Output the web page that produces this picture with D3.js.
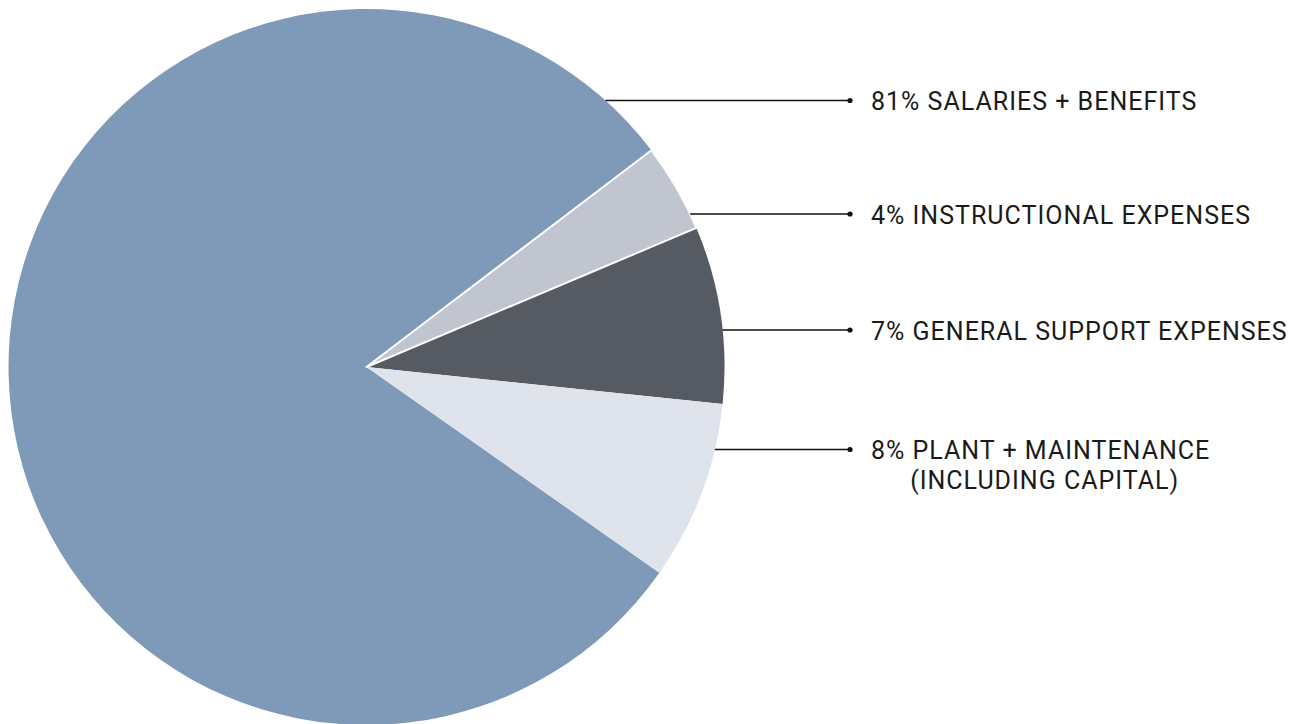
<!DOCTYPE html>
<html>
<head>
<meta charset="utf-8">
<script src="https://cdn.jsdelivr.net/npm/d3@7"></script>
<style>
  html, body { margin: 0; padding: 0; background: #ffffff; }
  svg { display: block; }
  text { font-family: "Roboto", "DejaVu Sans", sans-serif; fill: #1a1a1a; }
</style>
</head>
<body>
<svg id="chart" width="1306" height="724"></svg>
<script>
// ---- data ----
const categories = ["SALARIES + BENEFITS", "INSTRUCTIONAL EXPENSES", "GENERAL SUPPORT EXPENSES", "PLANT + MAINTENANCE"];
const subLabels  = ["", "", "", "(INCLUDING CAPITAL)"];
const pctLabels  = ["81%", "4%", "7%", "8%"];
// slice sizes as drawn (share of the circle, %)
const shares     = [79.9, 4.0, 8.0, 8.1];
const colors     = ["#7f9ab8", "#c1c5cf", "#565a62", "#dfe3ec"];

// ---- layout ----
const W = 1306, H = 724;
const cx = 366.5, cy = 367, R = 358;
const startDeg = 125.1;              // salaries slice begins here (clockwise from 12 o'clock)
const labelRowY = [100.5, 214, 330, 449.5];
const dotX = 850, textX = 871;

const svg = d3.select("#chart");
const g = svg.append("g").attr("transform", `translate(${cx},${cy})`);

const data = categories.map((c, i) => ({ name: c, share: shares[i], color: colors[i], pct: pctLabels[i], sub: subLabels[i], i }));

const pie = d3.pie().sort(null).value(d => d.share)
  .startAngle(startDeg * Math.PI / 180)
  .endAngle(startDeg * Math.PI / 180 + 2 * Math.PI);
const arc = d3.arc().innerRadius(0).outerRadius(R);
const arcs = pie(data);

// instructional slice carries a white edge, drawn on top
g.selectAll("path.slice")
  .data(arcs)
  .join("path")
  .attr("class", "slice")
  .attr("d", arc)
  .attr("fill", d => d.data.color)
  .attr("stroke", d => d.data.i === 1 ? "#ffffff" : "none")
  .attr("stroke-width", d => d.data.i === 1 ? 2 : 0)
  .attr("stroke-linejoin", "round")
  .sort((a, b) => (a.data.i === 1) - (b.data.i === 1));

// ---- leader lines and labels ----
const lab = svg.append("g");
data.forEach((d, i) => {
  const y = labelRowY[i];
  const dy = y - cy;
  const x0 = cx + Math.sqrt(R * R - dy * dy);
  lab.append("line")
    .attr("x1", x0).attr("y1", y).attr("x2", dotX).attr("y2", y)
    .attr("stroke", "#111").attr("stroke-width", 1.5);
  lab.append("circle").attr("cx", dotX).attr("cy", y).attr("r", 2.6).attr("fill", "#111");
  const t = lab.append("text")
    .attr("x", textX).attr("y", y + 9.5)
    .attr("font-size", 25)
    .attr("letter-spacing", 1)
    .text(d.pct + " " + d.name);
  if (d.sub) {
    const w = t.node().getComputedTextLength();
    lab.append("text")
      .attr("x", textX + w / 2 + 4).attr("y", y + 39.5)
      .attr("font-size", 25)
      .attr("letter-spacing", 1)
      .attr("text-anchor", "middle")
      .text(d.sub);
  }
});
</script>
</body>
</html>
